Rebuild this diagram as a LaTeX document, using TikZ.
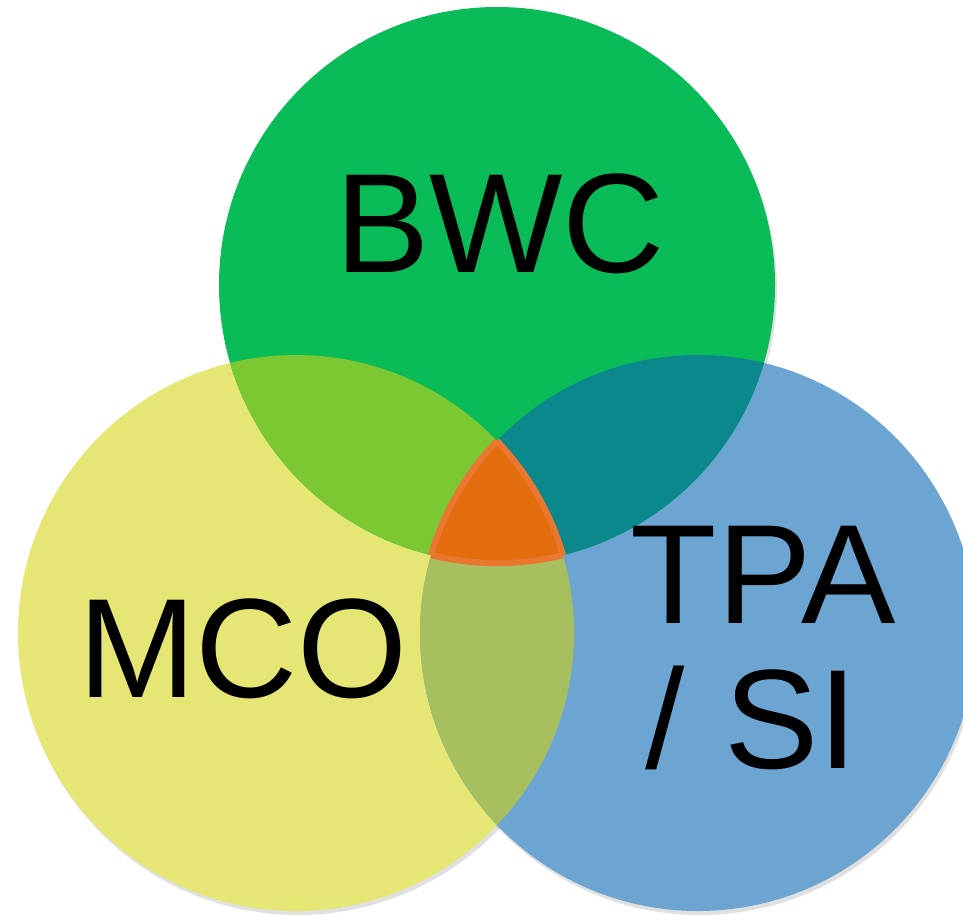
\documentclass[tikz,border=0pt]{standalone}
\usepackage{fontspec}
\setmainfont{Liberation Sans}
\usepackage{xcolor}
\usepackage{tikz}
\usetikzlibrary{calc, positioning}

\definecolor{bwcgreen}{HTML}{09BC57}
\definecolor{mcoyellow}{HTML}{E6E674}
\definecolor{tpablue}{HTML}{6DA5D2}
\definecolor{gylime}{HTML}{7CC833}
\definecolor{gbteal}{HTML}{0A888C}
\definecolor{ybolive}{HTML}{A8BF60}
\definecolor{midorange}{HTML}{E36C0D}
\definecolor{midedge}{HTML}{EA7630}

\tikzset{
    setlabel/.style={anchor=base, inner sep=0pt, text=black,
        font=\fontsize{80.5pt}{84pt}\selectfont},
    setshadow/.style={fill=black, opacity=0.12}
}

\begin{document}
\begin{tikzpicture}[x=0.02cm, y=0.02cm]
    \useasboundingbox (0,0) rectangle (963,914);

    % 1. Tâm và bán kính các vòng tròn
    \def\rad{278}
    \coordinate (G) at (497,629);
    \coordinate (Y) at (296,281);
    \coordinate (B) at (698,281);

    % 2. Bóng mờ phía dưới
    \fill[setshadow] ($(Y)+(2,-4)$) circle (\rad);
    \fill[setshadow] ($(B)+(2,-4)$) circle (\rad);
    \fill[setshadow] ($(G)+(2,-4)$) circle (\rad);

    % 3. Ba vòng tròn
    \fill[mcoyellow] (Y) circle (\rad);
    \fill[tpablue] (B) circle (\rad);
    \fill[bwcgreen] (G) circle (\rad);

    % 4. Các phần giao nhau
    \begin{scope}
        \clip (G) circle (\rad);
        \fill[gylime] (Y) circle (\rad);
        \fill[gbteal] (B) circle (\rad);
    \end{scope}
    \begin{scope}
        \clip (Y) circle (\rad);
        \fill[ybolive] (B) circle (\rad);
    \end{scope}

    % 5. Phần giao chung của cả ba
    \begin{scope}
        \clip (G) circle (\rad);
        \clip (Y) circle (\rad);
        \fill[midorange] (B) circle (\rad);
        \draw[midedge, line width=3.5pt] (B) circle (\rad);
    \end{scope}
    \begin{scope}
        \clip (G) circle (\rad);
        \clip (B) circle (\rad);
        \draw[midedge, line width=3.5pt] (Y) circle (\rad);
    \end{scope}
    \begin{scope}
        \clip (Y) circle (\rad);
        \clip (B) circle (\rad);
        \draw[midedge, line width=3.5pt] (G) circle (\rad);
    \end{scope}

    % 6. Nhãn
    \node[setlabel] (bwc) at (500,641) {BWC};
    \node[setlabel] (mco) at (243,217) {MCO};
    \node[setlabel] (tpa) at (763,291) {TPA};
    \node[setlabel] (si) at (752,146) {/ SI};
\end{tikzpicture}
\end{document}
